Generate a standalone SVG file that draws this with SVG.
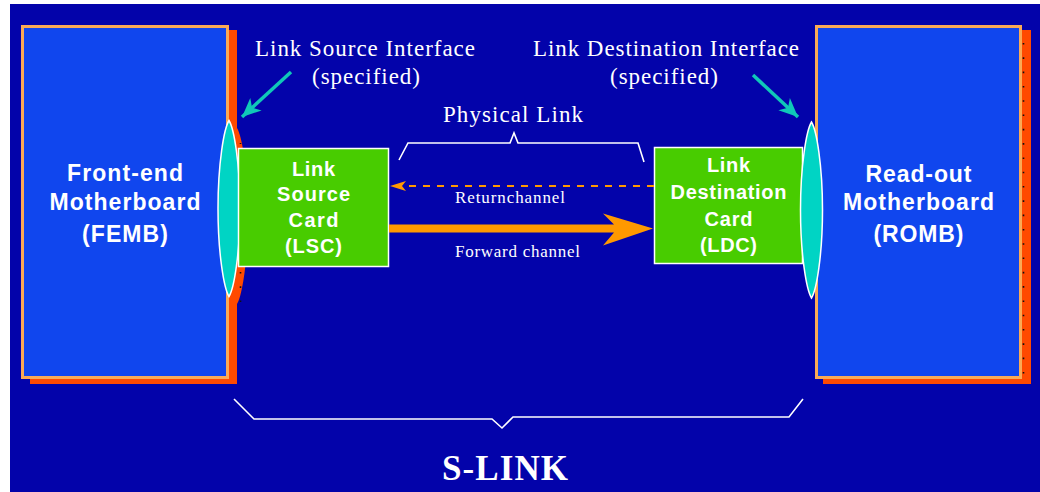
<svg xmlns="http://www.w3.org/2000/svg" width="1040" height="492" viewBox="0 0 1040 492">
  <style>
    .bg { fill: #0303AA; }
    .shadow { fill: #FF4A00; }
    .board { fill: #1046EE; stroke: #FAAA55; stroke-width: 3; }
    .card { fill: #48CC00; stroke: #FFFFFF; stroke-width: 1.5; }
    .iface { fill: #00D4C4; stroke: #FFFFFF; stroke-width: 1.5; }
    .bold { font-family: "Liberation Sans", Arial, sans-serif; font-weight: bold; fill: #FFFFFF; text-anchor: middle; }
    .serif { font-family: "Liberation Serif", "Times New Roman", serif; fill: #FFFFFF; text-anchor: middle; }
    .brace { fill: none; stroke: #FFFFFF; stroke-width: 1.6; stroke-linejoin: miter; }
    .pointer { fill: none; stroke: #10C8B8; stroke-width: 3.5; }
    .dots { fill: none; stroke: #111111; stroke-width: 1.6; stroke-dasharray: 1.6 12.7; }
  </style>
  <defs>
    <marker id="tealHead" markerUnits="userSpaceOnUse" markerWidth="20" markerHeight="20" viewBox="0 -9 19 18" refX="18" refY="0" orient="auto">
      <path d="M18,0 L0,-8 L5,0 L0,8 Z" fill="#10C8B8"/>
    </marker>
    <marker id="orangeHead" markerUnits="userSpaceOnUse" markerWidth="18" markerHeight="12" viewBox="0 -6 17 12" refX="16" refY="0" orient="auto">
      <path d="M16,0 L0,-5 L4,0 L0,5 Z" fill="#FF9900"/>
    </marker>
    <!-- interface connector outline: elongated, pointed at both ends -->
    <path id="spindle" d="M0,-88 C5,-80 11,-45 11,0 C11,45 5,80 0,88 C-5,80 -11,45 -11,0 C-11,-45 -5,-80 0,-88 Z"/>
  </defs>

  <!-- page background -->
  <rect x="0" y="0" width="1040" height="492" fill="#FFFFFF"/>
  <rect class="bg" x="10" y="4" width="1030" height="488"/>

  <!-- Front-end motherboard with its source interface -->
  <g id="femb">
    <use href="#spindle" class="shadow" x="237" y="216"/>
    <rect class="shadow" x="30" y="30" width="207" height="354"/>
    <rect class="board" x="22.5" y="26.5" width="205" height="351"/>
    <text class="bold" font-size="23" x="125" y="181" textLength="116" lengthAdjust="spacing">Front-end</text>
    <text class="bold" font-size="23" x="125" y="210" textLength="151" lengthAdjust="spacing">Motherboard</text>
    <text class="bold" font-size="23" x="125" y="242" textLength="86" lengthAdjust="spacing">(FEMB)</text>
  </g>
  <g id="lsi">
    <use href="#spindle" class="iface" x="229" y="208.5"/>
    <path class="dots" d="M240.5,143 V144 M240.5,272 V302"/>
  </g>

  <!-- Read-out motherboard -->
  <g id="romb">
    <rect class="shadow" x="823" y="30" width="208" height="354"/>
    <path class="dots" d="M1023.5,43 V375"/>
    <rect class="board" x="816.5" y="26.5" width="204" height="351"/>
    <text class="bold" font-size="23" x="918.5" y="182" textLength="106" lengthAdjust="spacing">Read-out</text>
    <text class="bold" font-size="23" x="918.5" y="210" textLength="151" lengthAdjust="spacing">Motherboard</text>
    <text class="bold" font-size="23" x="918.5" y="242" textLength="90" lengthAdjust="spacing">(ROMB)</text>
  </g>

  <!-- Link Source Card -->
  <g id="lsc">
    <rect class="card" x="238.5" y="148.5" width="150" height="118"/>
    <text class="bold" font-size="20" x="313.5" y="176" textLength="43" lengthAdjust="spacing">Link</text>
    <text class="bold" font-size="20" x="313.5" y="201" textLength="73" lengthAdjust="spacing">Source</text>
    <text class="bold" font-size="20" x="313.5" y="227" textLength="50" lengthAdjust="spacing">Card</text>
    <text class="bold" font-size="20" x="313.5" y="253" textLength="57" lengthAdjust="spacing">(LSC)</text>
  </g>

  <!-- Link Destination Card -->
  <g id="ldc">
    <rect class="card" x="654.5" y="147.5" width="148" height="116"/>
    <text class="bold" font-size="20" x="728.5" y="172" textLength="43" lengthAdjust="spacing">Link</text>
    <text class="bold" font-size="20" x="728.5" y="199" textLength="116" lengthAdjust="spacing">Destination</text>
    <text class="bold" font-size="20" x="728.5" y="226" textLength="48" lengthAdjust="spacing">Card</text>
    <text class="bold" font-size="20" x="728.5" y="252" textLength="57" lengthAdjust="spacing">(LDC)</text>
  </g>

  <!-- destination interface -->
  <g id="ldi">
    <use href="#spindle" class="iface" x="811.5" y="210"/>
  </g>

  <!-- callouts -->
  <g id="labels">
    <text class="serif" font-size="23" x="365" y="56" textLength="220" lengthAdjust="spacing">Link Source Interface</text>
    <text class="serif" font-size="23" x="366" y="84" textLength="108" lengthAdjust="spacing">(specified)</text>
    <text class="serif" font-size="23" x="666" y="56" textLength="266" lengthAdjust="spacing">Link Destination Interface</text>
    <text class="serif" font-size="23" x="664" y="84" textLength="108" lengthAdjust="spacing">(specified)</text>
    <text class="serif" font-size="23" x="513" y="122" textLength="140" lengthAdjust="spacing">Physical Link</text>
    <text class="serif" font-size="17" x="510" y="203" textLength="110" lengthAdjust="spacing">Returnchannel</text>
    <text class="serif" font-size="17" x="517.5" y="257" textLength="125" lengthAdjust="spacing">Forward channel</text>
    <text class="serif" font-size="35" font-weight="bold" x="505" y="480" textLength="126" lengthAdjust="spacing">S-LINK</text>
  </g>

  <!-- connectors and braces -->
  <g id="connectors">
    <line class="pointer" x1="291" y1="72" x2="242" y2="117" marker-end="url(#tealHead)"/>
    <line class="pointer" x1="753" y1="75" x2="798" y2="117" marker-end="url(#tealHead)"/>
    <line x1="654" y1="186" x2="390" y2="186" stroke="#FF9900" stroke-width="2" stroke-dasharray="7 7" marker-end="url(#orangeHead)"/>
    <polygon points="389,224.5 614,224.5 603,213.5 653,228.5 603,245.5 614,232.5 389,232.5" fill="#FF9900"/>
    <path class="brace" d="M399,160 L408,143 H510 L514,133 L518,143 H638 L644,162"/>
    <path class="brace" d="M234,399 L254,419 H492 L502,428 L513,417 H789 L803,399"/>
  </g>
</svg>
